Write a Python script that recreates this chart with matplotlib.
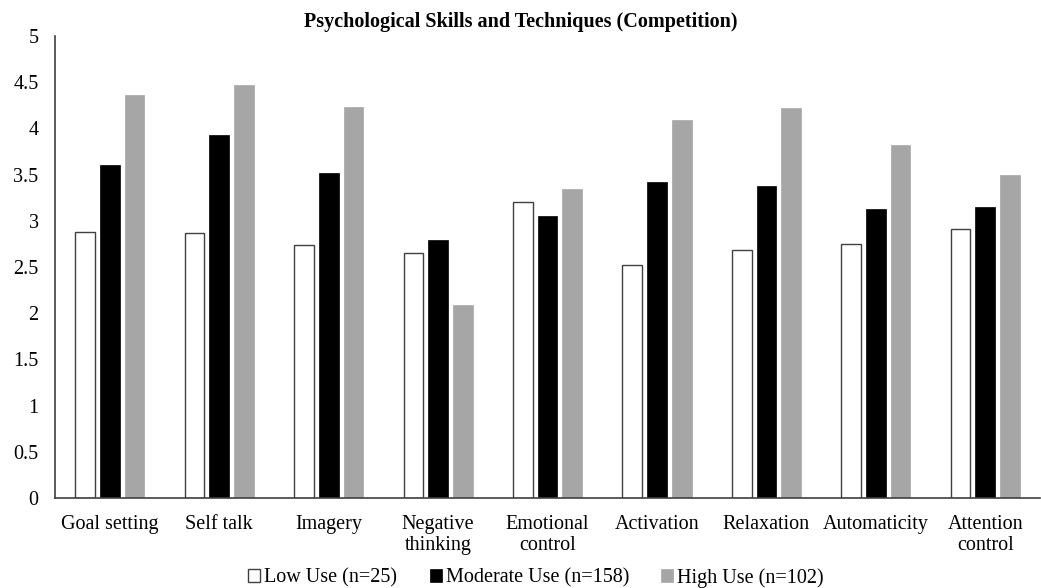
import numpy as np
import matplotlib
matplotlib.use("Agg")
import matplotlib.pyplot as plt

plt.rcParams['font.family'] = ['Liberation Serif', 'DejaVu Serif']

categories = ['Goal setting', 'Self talk', 'Imagery', 'Negative\nthinking',
              'Emotional\ncontrol', 'Activation', 'Relaxation', 'Automaticity',
              'Attention\ncontrol']
low_use = [2.88, 2.87, 2.74, 2.65, 3.20, 2.52, 2.68, 2.75, 2.91]
moderate_use = [3.60, 3.93, 3.52, 2.79, 3.05, 3.42, 3.38, 3.13, 3.15]
high_use = [4.36, 4.47, 4.23, 2.09, 3.34, 4.09, 4.22, 3.82, 3.50]
series_labels = ['Low Use (n=25)', 'Moderate Use (n=158)', 'High Use (n=102)']

fig = plt.figure(figsize=(10.41, 5.88), dpi=100)
ax = fig.add_axes([0.053, 0.153, 0.946, 0.786])

x = np.arange(len(categories))
w = 0.18
off = 0.226
ax.bar(x - off, low_use, w, color='white', edgecolor='#404040', linewidth=1.0, label=series_labels[0])
ax.bar(x, moderate_use, w, color='black', edgecolor='black', linewidth=0.5, label=series_labels[1])
ax.bar(x + off, high_use, w, color='#a6a6a6', edgecolor='#a6a6a6', linewidth=0.5, label=series_labels[2])

ax.set_xlim(-0.5, len(categories) - 0.5)
ax.set_ylim(0, 5)
ax.set_yticks(np.arange(0, 5.01, 0.5))
ax.set_yticklabels(['0', '0.5', '1', '1.5', '2', '2.5', '3', '3.5', '4', '4.5', '5'])
ax.set_xticks(x)
ax.set_xticklabels(categories, fontsize=14.5, linespacing=1.15)
ax.tick_params(axis='y', length=0, labelsize=14.5, pad=12)
ax.tick_params(axis='x', length=0, pad=12)

for s in ['top', 'right']:
    ax.spines[s].set_visible(False)
for s in ['left', 'bottom']:
    ax.spines[s].set_color('#404040')
    ax.spines[s].set_linewidth(1.2)

fig.text(0.5, 0.963, 'Psychological Skills and Techniques (Competition)',
         ha='center', va='center', fontsize=14.5, fontweight='bold')

fig.legend(loc='lower center', bbox_to_anchor=(0.515, -0.03), ncol=3, frameon=False,
           fontsize=14.5, handlelength=0.6, handleheight=0.6, handletextpad=0.2,
           columnspacing=1.6)

fig.savefig('out.png', dpi=100)
